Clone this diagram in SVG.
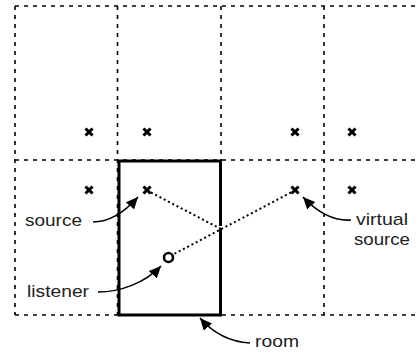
<svg xmlns="http://www.w3.org/2000/svg" width="419" height="354" viewBox="0 0 419 354">
<style>
.grid{stroke:#000;stroke-width:1.6;stroke-dasharray:4 5;fill:none}
.room{stroke:#000;stroke-width:3;fill:none}
.ray{stroke:#000;stroke-width:2;stroke-dasharray:2 2.8;fill:none}
.cross{stroke:#000;stroke-width:3;stroke-linecap:square}
.arr{stroke:#000;stroke-width:1.6;fill:none}
.lbl{font-family:"Liberation Sans",Arial,sans-serif;font-size:17px;fill:#222}
</style>
<defs>
<marker id="ah" markerUnits="userSpaceOnUse" markerWidth="14" markerHeight="12" refX="12" refY="5.5" orient="auto">
<path d="M0,0 L12,5.5 L0,11 Z" fill="#000"/>
</marker>
<g id="x"><line class="cross" x1="-2.5" y1="-2.5" x2="2.5" y2="2.5"/><line class="cross" x1="-2.5" y1="2.5" x2="2.5" y2="-2.5"/></g>
</defs>
<rect width="419" height="354" fill="#fff"/>
<g id="grid">
<line class="grid" x1="15" y1="6" x2="419" y2="6"/>
<line class="grid" x1="15" y1="160" x2="419" y2="160"/>
<line class="grid" x1="15" y1="315" x2="419" y2="315"/>
<line class="grid" x1="15" y1="6" x2="15" y2="315"/>
<line class="grid" x1="117.5" y1="6" x2="117.5" y2="315"/>
<line class="grid" x1="221" y1="6" x2="221" y2="315"/>
<line class="grid" x1="324" y1="6" x2="324" y2="315"/>
</g>
<g id="room">
<rect class="room" x="119" y="161" width="101.5" height="154"/>
<rect x="218" y="226" width="5" height="2.5" fill="#fff"/>
</g>
<g id="sources">
<use href="#x" x="89" y="132"/>
<use href="#x" x="147" y="132"/>
<use href="#x" x="295" y="132"/>
<use href="#x" x="352" y="132"/>
<use href="#x" x="89" y="190"/>
<use href="#x" x="147" y="190"/>
<use href="#x" x="295" y="190"/>
<use href="#x" x="352" y="190"/>
</g>
<g id="listener">
<circle cx="168.5" cy="257.5" r="4.5" fill="none" stroke="#000" stroke-width="2.6"/>
</g>
<g id="connectors">
<line class="ray" x1="151" y1="192.5" x2="221" y2="229"/>
<line class="ray" x1="291" y1="192.5" x2="173" y2="254.5"/>
<path class="arr" d="M93,222 C108,222 122,215 138,197" marker-end="url(#ah)"/>
<path class="arr" d="M98,292 C120,292 145,283 161,266" marker-end="url(#ah)"/>
<path class="arr" d="M351,220 C335,221 318,213 303,197" marker-end="url(#ah)"/>
<path class="arr" d="M250,343 C232,342 214,334 200,318" marker-end="url(#ah)"/>
</g>
<g id="labels">
<text class="lbl" x="25" y="226" textLength="57" lengthAdjust="spacingAndGlyphs">source</text>
<text class="lbl" x="27" y="297" textLength="62" lengthAdjust="spacingAndGlyphs">listener</text>
<text class="lbl" x="356" y="225" textLength="52" lengthAdjust="spacingAndGlyphs">virtual</text>
<text class="lbl" x="354" y="245" textLength="56" lengthAdjust="spacingAndGlyphs">source</text>
<text class="lbl" x="255" y="347" textLength="44" lengthAdjust="spacingAndGlyphs">room</text>
</g>
</svg>
